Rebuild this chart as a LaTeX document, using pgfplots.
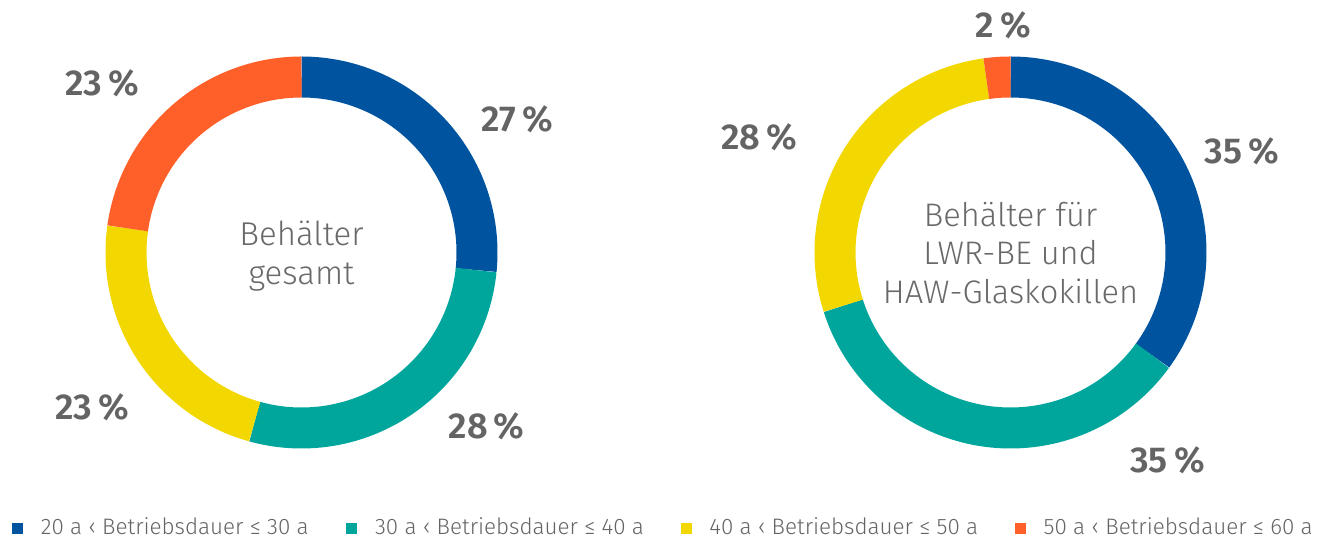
\documentclass[border=0pt]{standalone}
\usepackage{fontspec}
\setmainfont{Fira Sans}[UprightFont=* Light, BoldFont=* SemiBold]
\usepackage{pgfplots}
\usepackage{pgfplotstable}
\pgfplotsset{compat=1.18}
\definecolor{cblue}{RGB}{0,84,159}
\definecolor{cteal}{RGB}{0,166,156}
\definecolor{cyellow}{RGB}{242,216,0}
\definecolor{corange}{RGB}{255,95,40}
\definecolor{clab}{RGB}{100,100,100}
\definecolor{ctext}{RGB}{105,105,105}

% share in percent, clockwise from 12 o'clock
\pgfplotstableread{
val col
26.6 cblue
27.7 cteal
22.9 cyellow
22.8 corange
}\leftdata
\pgfplotstableread{
val col
35.0 cblue
35.1 cteal
27.7 cyellow
2.2 corange
}\rightdata

\newcommand\donut[3]{%
  \gdef\startang{90}%
  \pgfplotstablegetrowsof{#1}\pgfmathtruncatemacro\nrows{\pgfplotsretval-1}%
  \pgfplotsforeachungrouped \i in {0,...,\nrows}{%
    \pgfplotstablegetelem{\i}{val}\of{#1}\let\segval\pgfplotsretval
    \pgfplotstablegetelem{\i}{col}\of{#1}\let\segcol\pgfplotsretval
    \pgfmathsetmacro\endang{\startang-3.6*\segval}%
    \edef\cmd{\noexpand\addplot[draw=\segcol, line width=20.5bp, domain=\endang:\startang, samples=90, forget plot] ({#2+175.5*cos(x)},{#3+175.5*sin(x)});}%
    \cmd
    \global\let\startang\endang
  }%
}

\newcommand\pc[1]{#1\hspace{0.17em}\%}

\begin{document}
\begin{tikzpicture}
\begin{axis}[
  x=0.5bp, y=0.5bp,
  xmin=0, xmax=1320, ymin=0, ymax=539,
  hide axis, clip=false,
  legend columns=4,
  legend style={at={(axis cs:12,11)}, anchor=west, draw=none, fill=none,
    inner sep=0pt, outer sep=0pt,
    nodes={inner sep=0pt, text=clab, font=\fontsize{11.2bp}{13bp}\selectfont},
    /tikz/every odd column/.append style={column sep=9bp}},
]
\donut{\leftdata}{301.5}{286.5}
\donut{\rightdata}{1010.5}{286.5}

\addlegendimage{legend image code/.code={\fill[cblue] (0bp,-2.5bp) rectangle (5bp,2.5bp);}}
\addlegendimage{legend image code/.code={\fill[cteal] (0bp,-2.5bp) rectangle (5bp,2.5bp);}}
\addlegendimage{legend image code/.code={\fill[cyellow] (0bp,-2.5bp) rectangle (5bp,2.5bp);}}
\addlegendimage{legend image code/.code={\fill[corange] (0bp,-2.5bp) rectangle (5bp,2.5bp);}}
\legend{\makebox[152.75bp][l]{20 a ‹ Betriebsdauer ≤ 30 a},
        \makebox[152.75bp][l]{30 a ‹ Betriebsdauer ≤ 40 a},
        \makebox[152.75bp][l]{40 a ‹ Betriebsdauer ≤ 50 a},
        \makebox[40bp][l]{50 a ‹ Betriebsdauer ≤ 60 a}}

\begin{scope}[every node/.style={text=clab, font=\bfseries\fontsize{18bp}{20bp}\selectfont}]
\node at (axis cs:517.5,419.5) {\pc{27}};
\node at (axis cs:486.5,112.5) {\pc{28}};
\node at (axis cs:92,132) {\pc{23}};
\node at (axis cs:102,455.5) {\pc{23}};
\node at (axis cs:1003.5,514) {\pc{2}};
\node at (axis cs:1241.7,388) {\pc{35}};
\node at (axis cs:1167.5,79) {\pc{35}};
\node at (axis cs:759,401.5) {\pc{28}};
\end{scope}

\node[text=ctext, align=center, font=\fontsize{16.5bp}{19.5bp}\selectfont] at (axis cs:301.5,282.5) {Behälter\\gesamt};
\node[text=ctext, align=center, font=\fontsize{16.3bp}{19.25bp}\selectfont] at (axis cs:1010.5,286) {Behälter für\\LWR-BE und\\HAW-Glaskokillen};
\end{axis}
\pgfresetboundingbox
\path (current axis.south west) rectangle (current axis.north east);
\end{tikzpicture}
\end{document}
